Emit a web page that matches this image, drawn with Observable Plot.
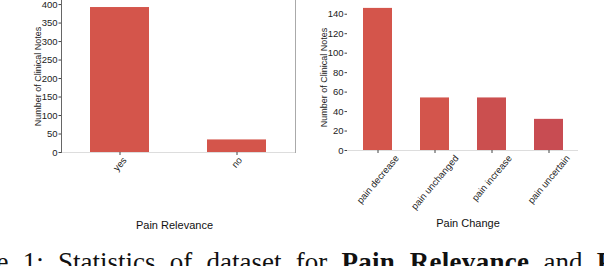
<!DOCTYPE html>
<html><head><meta charset="utf-8">
<script src="https://cdn.jsdelivr.net/npm/d3@7"></script>
<script src="https://cdn.jsdelivr.net/npm/@observablehq/plot@0.6"></script>
<style>
html,body{margin:0;padding:0;background:#fff;}
#wrap{position:relative;width:604px;height:266px;overflow:hidden;}
#left{position:absolute;left:0;top:0;}
#right{position:absolute;left:300px;top:0;}
#caption{position:absolute;top:249px;left:-62px;white-space:nowrap;font-family:"Liberation Serif",serif;font-size:27px;line-height:27px;word-spacing:7.5px;color:#111;}
#caption b{letter-spacing:0.3px;}
</style></head><body>
<div id="wrap"><div id="left"></div><div id="right"></div><div id="caption">Figure 1: Statistics of dataset for <b>Pain Relevance</b> and <b>Pain Change</b>.</div></div>
<script>
const relevanceCategories = ["yes", "no"];
const relevanceCounts = [392, 34];
const relevanceTicks = [0, 50, 100, 150, 200, 250, 300, 350, 400];
const changeCategories = ["pain decrease", "pain unchanged", "pain increase", "pain uncertain"];
const changeCounts = [146, 54, 54, 32];
const changeTicks = [0, 20, 40, 60, 80, 100, 120, 140];
const yTitle = "Number of Clinical Notes";

const relevanceColors = ["#d4554b", "#d4554b"];
const changeColors = ["#d4554b", "#d3554c", "#cb4f4f", "#c84c52"];

const FONT = "'Liberation Sans', Arial, sans-serif";
const TICKFS = 9.5;
const ANGLE = 50;

const ctx = document.createElement("canvas").getContext("2d");
ctx.font = `${TICKFS}px ${FONT}`;
function rotatedLabel(cat, gap) {
  const L = ctx.measureText(cat).width;
  const th = ANGLE * Math.PI / 180;
  const H = L * Math.sin(th) + TICKFS * Math.cos(th);
  return Plot.text([cat], {x: d => d, frameAnchor: "bottom", dy: gap + H / 2,
    rotate: -ANGLE, textAnchor: "middle", lineAnchor: "middle", fontSize: TICKFS, fill: "#222"});
}

function chart({cats, counts, colors, ticks, ymax, width, height, ml, mr, mt, mb, title, titleDx, spines}) {
  const data = cats.map((c, i) => ({category: c, count: counts[i]}));
  const marks = [
    Plot.barY(data, {x: "category", y: "count", fill: "category"}),
    Plot.ruleY([0], {stroke: "#dddddd"}),
    Plot.axisX({tickSize: 3, tickFormat: () => "", label: null, stroke: "#444"}),
    Plot.axisY({ticks, tickSize: 2.5, tickPadding: 1.5, fontSize: TICKFS, label: null, stroke: "#444", fill: "#222"}),
    ...cats.map(c => rotatedLabel(c, 3)),
    Plot.text([yTitle], {frameAnchor: "left", dx: -23, rotate: -90, textAnchor: "middle", lineAnchor: "middle", fontSize: 9, fill: "#222"}),
    Plot.text([title], {frameAnchor: "bottom", dy: 73, dx: titleDx, textAnchor: "middle", lineAnchor: "middle", fontSize: 11, fill: "#111"})
  ];
  if (spines) {
    marks.push(Plot.frame({anchor: "left", stroke: "#666"}));
    marks.push(Plot.frame({anchor: "right", stroke: "#aaa"}));
  }
  return Plot.plot({
    width, height, marginLeft: ml, marginRight: mr, marginTop: mt, marginBottom: mb,
    style: {fontFamily: FONT, fontSize: TICKFS + "px", background: "transparent", overflow: "visible"},
    x: {domain: cats, paddingInner: 0.5, paddingOuter: 0.25, axis: null},
    y: {domain: [0, ymax], axis: null},
    color: {domain: cats, range: colors},
    marks
  });
}

document.getElementById("left").append(chart({
  cats: relevanceCategories, counts: relevanceCounts, colors: relevanceColors, ticks: relevanceTicks,
  ymax: 411, width: 300, height: 236, ml: 61, mr: 5, mt: 0, mb: 84, title: "Pain Relevance", titleDx: -4, spines: true
}));
document.getElementById("right").append(chart({
  cats: changeCategories, counts: changeCounts, colors: changeColors, ticks: changeTicks,
  ymax: 150, width: 304, height: 236, ml: 47, mr: 26, mt: 4, mb: 86, title: "Pain Change", titleDx: 5, spines: false
}));
</script>
</body></html>
